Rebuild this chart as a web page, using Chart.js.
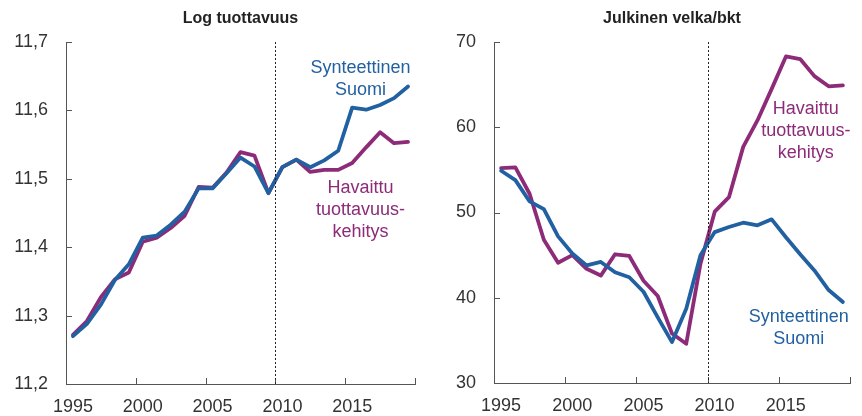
<!DOCTYPE html>
<html>
<head>
<meta charset="utf-8">
<script src="https://cdn.jsdelivr.net/npm/chart.js@4.4.1/dist/chart.umd.min.js"></script>
<style>
    html, body { margin: 0; padding: 0; background: #fff; }
    #wrap { display: flex; width: 862px; height: 416px; }
    .panel { position: relative; width: 431px; height: 416px; }
</style>
</head>
<body>
<div id="wrap">
    <div class="panel"><canvas id="prodChart" width="431" height="416"></canvas></div>
    <div class="panel"><canvas id="debtChart" width="431" height="416"></canvas></div>
</div>
<script>
// data
const years = [1995, 1996, 1997, 1998, 1999, 2000, 2001, 2002, 2003, 2004, 2005, 2006,
    2007, 2008, 2009, 2010, 2011, 2012, 2013, 2014, 2015, 2016, 2017, 2018, 2019];

const prodSynth = [11.270, 11.288, 11.316, 11.352, 11.375, 11.414, 11.417, 11.433, 11.452, 11.486,
    11.486, 11.508, 11.531, 11.518, 11.479, 11.517, 11.528, 11.517, 11.527, 11.541,
    11.604, 11.601, 11.608, 11.618, 11.635];
const prodObserved = [11.272, 11.292, 11.327, 11.353, 11.363, 11.408, 11.414, 11.428, 11.446, 11.488,
    11.487, 11.509, 11.539, 11.534, 11.479, 11.517, 11.528, 11.510, 11.513, 11.513,
    11.523, 11.546, 11.568, 11.552, 11.554];

const debtSynth = [54.9, 53.8, 51.3, 50.4, 47.2, 45.2, 43.8, 44.2, 43.0, 42.4,
    40.7, 37.7, 34.8, 38.7, 45.0, 47.7, 48.3, 48.8, 48.5, 49.2,
    47.1, 45.1, 43.2, 40.9, 39.5];
const debtObserved = [55.2, 55.3, 52.2, 46.8, 44.1, 45.0, 43.4, 42.6, 45.1, 44.9,
    42.0, 40.2, 35.8, 34.6, 44.0, 50.1, 51.8, 57.7, 60.8, 64.5,
    68.3, 68.0, 66.0, 64.8, 64.9];

const xTicks = [1995, 2000, 2005, 2010, 2015, 2020];
const prodTicks = [11.2, 11.3, 11.4, 11.5, 11.6, 11.7];
const debtTicks = [30, 40, 50, 60, 70];

const treatmentYear = 2010;
const BLUE = '#2261a1';
const PURPLE = '#8d2b79';
const FONT = "'Liberation Sans', Arial, sans-serif";

// extra drawing: title, dotted line, inner tick marks, text labels
const decor = {
    id: 'decor',
    afterDraw(chart) {
        const { ctx, chartArea: a, scales: { x, y } } = chart;
        const o = chart.options.plugins.decor;
        ctx.save();

        // inner tick marks
        ctx.strokeStyle = '#555';
        ctx.lineWidth = 1;
        ctx.beginPath();
        x.ticks.forEach(t => {
            const px = Math.round(x.getPixelForValue(t.value)) + 0.5;
            ctx.moveTo(px, a.bottom);
            ctx.lineTo(px, a.bottom - 6);
        });
        y.ticks.forEach(t => {
            const py = Math.round(y.getPixelForValue(t.value)) + 0.5;
            ctx.moveTo(a.left, py);
            ctx.lineTo(a.left + 6, py);
        });
        ctx.stroke();

        // dotted line at 2010
        const lx = Math.round(x.getPixelForValue(treatmentYear)) + 0.5;
        ctx.strokeStyle = '#222';
        ctx.setLineDash([2, 2]);
        ctx.beginPath();
        ctx.moveTo(lx, a.top);
        ctx.lineTo(lx, a.bottom);
        ctx.stroke();
        ctx.setLineDash([]);

        // title
        ctx.fillStyle = '#222';
        ctx.font = 'bold 16px ' + FONT;
        ctx.textAlign = 'center';
        ctx.textBaseline = 'middle';
        ctx.fillText(o.title, (a.left + a.right) / 2, 19);

        // series labels
        ctx.font = '18px ' + FONT;
        o.notes.forEach(n => {
            const nx = x.getPixelForValue(n.x);
            const ny = y.getPixelForValue(n.y);
            ctx.fillStyle = n.color;
            n.lines.forEach((s, i) => ctx.fillText(s, nx, ny + i * 22));
        });
        ctx.restore();
    }
};

function makeChart(id, cfg) {
    const toPts = arr => arr.map((v, i) => ({ x: years[i] + 0.5, y: v }));
    return new Chart(document.getElementById(id), {
        type: 'line',
        data: {
            datasets: [
                { label: 'Synteettinen Suomi', data: toPts(cfg.synth), borderColor: BLUE,
                  borderWidth: 3.8, pointRadius: 0, tension: 0, borderJoinStyle: 'round', borderCapStyle: 'round' },
                { label: 'Havaittu tuottavuuskehitys', data: toPts(cfg.observed), borderColor: PURPLE,
                  borderWidth: 3.8, pointRadius: 0, tension: 0, borderJoinStyle: 'round', borderCapStyle: 'round' }
            ]
        },
        options: {
            responsive: false,
            animation: false,
            events: [],
            layout: { padding: { top: 42, right: cfg.padRight, left: 0, bottom: 0 } },
            plugins: {
                legend: { display: false },
                tooltip: { enabled: false },
                decor: { title: cfg.title, notes: cfg.notes }
            },
            scales: {
                x: {
                    type: 'linear',
                    min: 1995,
                    max: 2020,
                    afterBuildTicks: s => { s.ticks = xTicks.map(v => ({ value: v })); },
                    afterFit: s => { s.height = cfg.xHeight; },
                    grid: { display: false, drawTicks: false },
                    border: { display: true, color: '#555', width: 1 },
                    ticks: {
                        padding: 12,
                        labelOffset: cfg.labelOffset,
                        maxRotation: 0,
                        autoSkip: false,
                        color: '#333',
                        font: { family: FONT, size: 18 },
                        callback: v => v === 2020 ? '' : String(v)
                    }
                },
                y: {
                    type: 'linear',
                    min: cfg.ticks[0],
                    max: cfg.ticks[cfg.ticks.length - 1],
                    afterBuildTicks: s => { s.ticks = cfg.ticks.map(v => ({ value: v })); },
                    afterFit: s => { s.width = cfg.yWidth; },
                    grid: { display: false, drawTicks: false },
                    border: { display: true, color: '#555', width: 1 },
                    ticks: {
                        padding: 18,
                        color: '#333',
                        font: { family: FONT, size: 18 },
                        callback: cfg.fmt
                    }
                }
            }
        },
        plugins: [decor]
    });
}

makeChart('prodChart', {
    title: 'Log tuottavuus',
    synth: prodSynth,
    observed: prodObserved,
    ticks: prodTicks,
    fmt: v => v.toFixed(1).replace('.', ','),
    yWidth: 66,
    xHeight: 32,
    padRight: 16,
    labelOffset: 7,
    notes: [
        { lines: ['Synteettinen', 'Suomi'], x: 2016.1, y: 11.662, color: BLUE },
        { lines: ['Havaittu', 'tuottavuus-', 'kehitys'], x: 2016.1, y: 11.486, color: PURPLE }
    ]
});

makeChart('debtChart', {
    title: 'Julkinen velka/bkt',
    synth: debtSynth,
    observed: debtObserved,
    ticks: debtTicks,
    fmt: v => String(v),
    yWidth: 63,
    xHeight: 33,
    padRight: 1,
    labelOffset: 7,
    notes: [
        { lines: ['Havaittu', 'tuottavuus-', 'kehitys'], x: 2016.9, y: 62.1, color: PURPLE },
        { lines: ['Synteettinen', 'Suomi'], x: 2016.4, y: 37.7, color: BLUE }
    ]
});
</script>
</body>
</html>
